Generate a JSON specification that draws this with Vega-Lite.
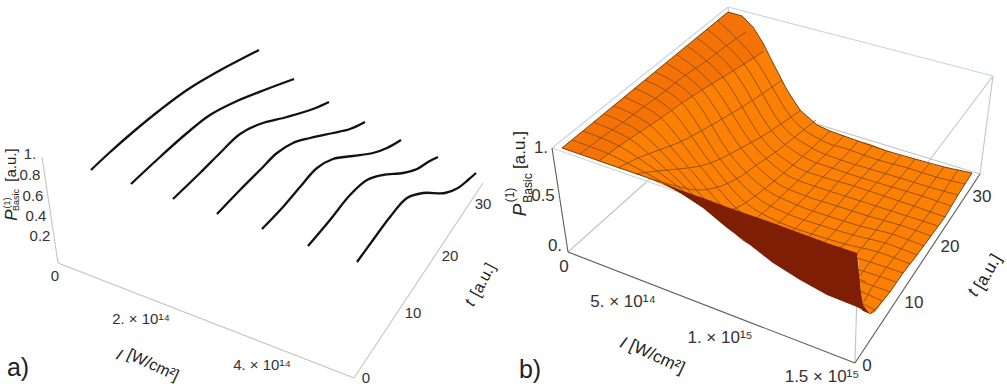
{"$schema":"https://vega.github.io/schema/vega-lite/v6.json","width":1007,"height":390,"padding":0,"autosize":{"type":"fit","contains":"padding"},"background":"white","config":{"view":{"stroke":null},"text":{"font":"Liberation Sans"}},
"datasets":{
"curves":[
{"k":"c1","x":91,"y":170},{"k":"c1","x":108,"y":154},{"k":"c1","x":133,"y":132},{"k":"c1","x":160,"y":110},{"k":"c1","x":187,"y":90},{"k":"c1","x":217,"y":72},{"k":"c1","x":259,"y":50},
{"k":"c2","x":131,"y":184},{"k":"c2","x":160,"y":157},{"k":"c2","x":187,"y":133},{"k":"c2","x":210,"y":115},{"k":"c2","x":237,"y":101},{"k":"c2","x":267,"y":89},{"k":"c2","x":294,"y":79},
{"k":"c3","x":173,"y":199},{"k":"c3","x":200,"y":173},{"k":"c3","x":220,"y":153},{"k":"c3","x":240,"y":134},{"k":"c3","x":260,"y":124},{"k":"c3","x":287,"y":117},{"k":"c3","x":313,"y":109},{"k":"c3","x":329,"y":102},
{"k":"c4","x":217,"y":214},{"k":"c4","x":240,"y":190},{"k":"c4","x":260,"y":170},{"k":"c4","x":277,"y":153},{"k":"c4","x":293,"y":143},{"k":"c4","x":310,"y":138},{"k":"c4","x":333,"y":133},{"k":"c4","x":350,"y":129},{"k":"c4","x":365,"y":122},
{"k":"c5","x":262,"y":229},{"k":"c5","x":283,"y":207},{"k":"c5","x":300,"y":187},{"k":"c5","x":317,"y":168},{"k":"c5","x":333,"y":159},{"k":"c5","x":353,"y":156},{"k":"c5","x":373,"y":153},{"k":"c5","x":387,"y":148},{"k":"c5","x":401,"y":140},
{"k":"c6","x":308,"y":246},{"k":"c6","x":330,"y":220},{"k":"c6","x":350,"y":195},{"k":"c6","x":367,"y":180},{"k":"c6","x":383,"y":175},{"k":"c6","x":403,"y":173},{"k":"c6","x":417,"y":169},{"k":"c6","x":428,"y":162},{"k":"c6","x":438,"y":157},
{"k":"c7","x":357,"y":262},{"k":"c7","x":373,"y":240},{"k":"c7","x":390,"y":217},{"k":"c7","x":407,"y":198},{"k":"c7","x":423,"y":193},{"k":"c7","x":445,"y":193},{"k":"c7","x":458,"y":188},{"k":"c7","x":468,"y":180},{"k":"c7","x":476,"y":173}],
"greyAxes":[
{"k":"a1","x":42,"y":157},{"k":"a1","x":58,"y":263},{"k":"a2","x":58,"y":263},{"k":"a2","x":354,"y":378},{"k":"a3","x":354,"y":378},{"k":"a3","x":483,"y":183},
{"k":"b1","x":993,"y":76},{"k":"b1","x":858,"y":255},{"k":"b2","x":568,"y":252},{"k":"b2","x":738,"y":100},{"k":"b3","x":855,"y":363},{"k":"b3","x":858,"y":255},{"k":"b4","x":993,"y":76},{"k":"b4","x":980,"y":174},{"k":"b5","x":738,"y":100},{"k":"b5","x":980,"y":174},{"k":"b6","x":728,"y":7},{"k":"b6","x":738,"y":100}],
"blueAxes":[{"k":"b7","x":552,"y":148},{"k":"b7","x":728,"y":7},{"k":"b8","x":728,"y":7},{"k":"b8","x":993,"y":76},{"k":"b9","x":552,"y":148},{"k":"b9","x":858,"y":255}],
"darkAxes":[{"k":"d1","x":552,"y":148},{"k":"d1","x":568,"y":252},{"k":"d2","x":568,"y":252},{"k":"d2","x":855,"y":363},{"k":"d3","x":855,"y":363},{"k":"d3","x":980,"y":174}],
"orange":[{"x":562,"y":148,"y2":148},{"x":583,"y":131,"y2":155},{"x":604,"y":114,"y2":163},{"x":645,"y":80,"y2":177},{"x":687,"y":46,"y2":195},{"x":728,"y":12,"y2":210},{"x":742,"y":16,"y2":215},{"x":753,"y":27,"y2":219},{"x":763,"y":43,"y2":222},{"x":773,"y":63,"y2":226},{"x":787,"y":90,"y2":231},{"x":800,"y":110,"y2":235},{"x":817,"y":125,"y2":242},{"x":830,"y":131,"y2":246},{"x":858,"y":141,"y2":256},{"x":859,"y":141,"y2":273},{"x":861,"y":142,"y2":293},{"x":863,"y":142,"y2":305},{"x":870,"y":144,"y2":314},{"x":875,"y":146,"y2":312},{"x":887,"y":151,"y2":296},{"x":890,"y":152,"y2":292},{"x":903,"y":156,"y2":273},{"x":915,"y":159,"y2":258},{"x":931,"y":164,"y2":236},{"x":944,"y":167,"y2":218},{"x":958,"y":170,"y2":195},{"x":972,"y":173,"y2":173}],
"plateau":[{"x":562,"y":148,"y2":148},{"x":583,"y":131,"y2":155},{"x":599,"y":118,"y2":161},{"x":640,"y":84,"y2":132},{"x":682,"y":50,"y2":103},{"x":728,"y":12,"y2":74},{"x":745,"y":18,"y2":63},{"x":764,"y":45,"y2":51}],
"dark":[{"x":660,"y":182,"y2":182},{"x":680,"y":190,"y2":193},{"x":703,"y":198,"y2":208},{"x":727,"y":207,"y2":228},{"x":750,"y":215,"y2":245},{"x":773,"y":223,"y2":263},{"x":800,"y":233,"y2":280},{"x":827,"y":243,"y2":295},{"x":857,"y":253,"y2":307},{"x":859,"y":273,"y2":308},{"x":861,"y":293,"y2":309},{"x":863,"y":305,"y2":311},{"x":870,"y":314,"y2":314}],
"edges":[{"k":"s","x":728,"y":12},{"k":"s","x":742,"y":16},{"k":"s","x":753,"y":27},{"k":"s","x":763,"y":43},{"k":"s","x":773,"y":63},{"k":"s","x":787,"y":90},{"k":"s","x":800,"y":110},{"k":"s","x":817,"y":125},{"k":"s","x":830,"y":131},{"k":"s","x":858,"y":141},{"k":"s","x":887,"y":151},{"k":"s","x":915,"y":159},{"k":"s","x":944,"y":167},{"k":"s","x":972,"y":173},{"k":"l","x":562,"y":148},{"k":"l","x":728,"y":12},{"k":"f","x":562,"y":148},{"k":"f","x":660,"y":182},{"k":"r","x":870,"y":314},{"k":"r","x":875,"y":310},{"k":"r","x":890,"y":292},{"k":"r","x":903,"y":273},{"k":"r","x":917,"y":255},{"k":"r","x":931,"y":236},{"k":"r","x":945,"y":217},{"k":"r","x":958,"y":195},{"k":"r","x":972,"y":173}],
"mesh":[
{"k":"t1","x":572,"y":140},{"k":"t1","x":609,"y":154},{"k":"t1","x":646,"y":173},{"k":"t1","x":684,"y":194},{"k":"t1","x":721,"y":215},{"k":"t1","x":758,"y":236},{"k":"t1","x":794,"y":252},{"k":"t1","x":830,"y":267},{"k":"t1","x":866,"y":282},
{"k":"t2","x":583,"y":131},{"k":"t2","x":619,"y":146},{"k":"t2","x":657,"y":171},{"k":"t2","x":695,"y":200},{"k":"t2","x":732,"y":230},{"k":"t2","x":769,"y":257},{"k":"t2","x":804,"y":277},{"k":"t2","x":840,"y":293},{"k":"t2","x":875,"y":310},
{"k":"t3","x":593,"y":122},{"k":"t3","x":630,"y":139},{"k":"t3","x":667,"y":170},{"k":"t3","x":705,"y":206},{"k":"t3","x":742,"y":237},{"k":"t3","x":778,"y":257},{"k":"t3","x":812,"y":273},{"k":"t3","x":848,"y":286},{"k":"t3","x":882,"y":301},
{"k":"t4","x":604,"y":114},{"k":"t4","x":640,"y":132},{"k":"t4","x":678,"y":169},{"k":"t4","x":716,"y":212},{"k":"t4","x":752,"y":244},{"k":"t4","x":787,"y":257},{"k":"t4","x":821,"y":270},{"k":"t4","x":856,"y":280},{"k":"t4","x":890,"y":292},
{"k":"t5","x":614,"y":106},{"k":"t5","x":650,"y":125},{"k":"t5","x":689,"y":168},{"k":"t5","x":726,"y":210},{"k":"t5","x":761,"y":238},{"k":"t5","x":795,"y":250},{"k":"t5","x":829,"y":261},{"k":"t5","x":863,"y":271},{"k":"t5","x":896,"y":282},
{"k":"t6","x":624,"y":97},{"k":"t6","x":661,"y":118},{"k":"t6","x":700,"y":166},{"k":"t6","x":736,"y":208},{"k":"t6","x":770,"y":231},{"k":"t6","x":804,"y":242},{"k":"t6","x":837,"y":252},{"k":"t6","x":870,"y":262},{"k":"t6","x":903,"y":273},
{"k":"t7","x":634,"y":88},{"k":"t7","x":671,"y":110},{"k":"t7","x":710,"y":162},{"k":"t7","x":745,"y":202},{"k":"t7","x":779,"y":222},{"k":"t7","x":812,"y":234},{"k":"t7","x":845,"y":244},{"k":"t7","x":878,"y":252},{"k":"t7","x":910,"y":264},
{"k":"t8","x":645,"y":80},{"k":"t8","x":682,"y":103},{"k":"t8","x":720,"y":159},{"k":"t8","x":755,"y":196},{"k":"t8","x":788,"y":214},{"k":"t8","x":820,"y":225},{"k":"t8","x":853,"y":235},{"k":"t8","x":885,"y":243},{"k":"t8","x":917,"y":255},
{"k":"t9","x":655,"y":72},{"k":"t9","x":692,"y":96},{"k":"t9","x":730,"y":154},{"k":"t9","x":764,"y":188},{"k":"t9","x":797,"y":205},{"k":"t9","x":828,"y":216},{"k":"t9","x":860,"y":226},{"k":"t9","x":892,"y":234},{"k":"t9","x":924,"y":246},
{"k":"t10","x":666,"y":63},{"k":"t10","x":702,"y":90},{"k":"t10","x":741,"y":148},{"k":"t10","x":774,"y":181},{"k":"t10","x":806,"y":196},{"k":"t10","x":837,"y":206},{"k":"t10","x":868,"y":216},{"k":"t10","x":900,"y":225},{"k":"t10","x":931,"y":236},
{"k":"t11","x":676,"y":54},{"k":"t11","x":712,"y":84},{"k":"t11","x":751,"y":142},{"k":"t11","x":784,"y":173},{"k":"t11","x":814,"y":186},{"k":"t11","x":845,"y":196},{"k":"t11","x":876,"y":206},{"k":"t11","x":907,"y":216},{"k":"t11","x":938,"y":226},
{"k":"t12","x":687,"y":46},{"k":"t12","x":723,"y":77},{"k":"t12","x":761,"y":137},{"k":"t12","x":793,"y":165},{"k":"t12","x":823,"y":177},{"k":"t12","x":854,"y":186},{"k":"t12","x":884,"y":196},{"k":"t12","x":914,"y":206},{"k":"t12","x":945,"y":217},
{"k":"t13","x":697,"y":38},{"k":"t13","x":733,"y":70},{"k":"t13","x":771,"y":130},{"k":"t13","x":802,"y":156},{"k":"t13","x":832,"y":168},{"k":"t13","x":862,"y":178},{"k":"t13","x":892,"y":187},{"k":"t13","x":922,"y":196},{"k":"t13","x":951,"y":206},
{"k":"t14","x":707,"y":29},{"k":"t14","x":744,"y":64},{"k":"t14","x":781,"y":124},{"k":"t14","x":812,"y":148},{"k":"t14","x":841,"y":160},{"k":"t14","x":870,"y":169},{"k":"t14","x":900,"y":178},{"k":"t14","x":929,"y":187},{"k":"t14","x":958,"y":195},
{"k":"t15","x":717,"y":20},{"k":"t15","x":754,"y":58},{"k":"t15","x":791,"y":117},{"k":"t15","x":821,"y":140},{"k":"t15","x":850,"y":150},{"k":"t15","x":878,"y":160},{"k":"t15","x":908,"y":168},{"k":"t15","x":936,"y":177},{"k":"t15","x":965,"y":184},
{"k":"i1","x":580,"y":154},{"k":"i1","x":601,"y":138},{"k":"i1","x":622,"y":123},{"k":"i1","x":642,"y":108},{"k":"i1","x":664,"y":92},{"k":"i1","x":684,"y":76},{"k":"i1","x":705,"y":62},{"k":"i1","x":726,"y":46},{"k":"i1","x":746,"y":32},
{"k":"i2","x":599,"y":161},{"k":"i2","x":619,"y":146},{"k":"i2","x":640,"y":132},{"k":"i2","x":661,"y":118},{"k":"i2","x":682,"y":103},{"k":"i2","x":702,"y":90},{"k":"i2","x":723,"y":77},{"k":"i2","x":744,"y":64},{"k":"i2","x":764,"y":51},
{"k":"i3","x":618,"y":168},{"k":"i3","x":638,"y":158},{"k":"i3","x":659,"y":150},{"k":"i3","x":680,"y":142},{"k":"i3","x":701,"y":131},{"k":"i3","x":722,"y":119},{"k":"i3","x":742,"y":107},{"k":"i3","x":762,"y":94},{"k":"i3","x":782,"y":80},
{"k":"i4","x":636,"y":174},{"k":"i4","x":657,"y":171},{"k":"i4","x":678,"y":169},{"k":"i4","x":700,"y":166},{"k":"i4","x":720,"y":159},{"k":"i4","x":741,"y":148},{"k":"i4","x":761,"y":137},{"k":"i4","x":781,"y":124},{"k":"i4","x":801,"y":110},
{"k":"i5","x":654,"y":180},{"k":"i5","x":676,"y":186},{"k":"i5","x":697,"y":190},{"k":"i5","x":718,"y":187},{"k":"i5","x":738,"y":178},{"k":"i5","x":758,"y":164},{"k":"i5","x":777,"y":151},{"k":"i5","x":796,"y":136},{"k":"i5","x":816,"y":120},
{"k":"i6","x":673,"y":187},{"k":"i6","x":695,"y":200},{"k":"i6","x":716,"y":212},{"k":"i6","x":736,"y":208},{"k":"i6","x":755,"y":196},{"k":"i6","x":774,"y":181},{"k":"i6","x":793,"y":165},{"k":"i6","x":812,"y":148},{"k":"i6","x":830,"y":131},
{"k":"i7","x":692,"y":194},{"k":"i7","x":714,"y":215},{"k":"i7","x":734,"y":228},{"k":"i7","x":753,"y":220},{"k":"i7","x":772,"y":205},{"k":"i7","x":790,"y":188},{"k":"i7","x":808,"y":171},{"k":"i7","x":826,"y":154},{"k":"i7","x":844,"y":136},
{"k":"i8","x":710,"y":200},{"k":"i8","x":732,"y":230},{"k":"i8","x":752,"y":244},{"k":"i8","x":770,"y":231},{"k":"i8","x":788,"y":214},{"k":"i8","x":806,"y":196},{"k":"i8","x":823,"y":177},{"k":"i8","x":841,"y":160},{"k":"i8","x":858,"y":141},
{"k":"i9","x":728,"y":207},{"k":"i9","x":750,"y":244},{"k":"i9","x":770,"y":250},{"k":"i9","x":787,"y":236},{"k":"i9","x":804,"y":220},{"k":"i9","x":822,"y":201},{"k":"i9","x":838,"y":182},{"k":"i9","x":856,"y":164},{"k":"i9","x":872,"y":146},
{"k":"i10","x":747,"y":214},{"k":"i10","x":769,"y":257},{"k":"i10","x":787,"y":257},{"k":"i10","x":804,"y":242},{"k":"i10","x":820,"y":225},{"k":"i10","x":837,"y":206},{"k":"i10","x":854,"y":186},{"k":"i10","x":870,"y":169},{"k":"i10","x":887,"y":151},
{"k":"i11","x":766,"y":220},{"k":"i11","x":786,"y":267},{"k":"i11","x":804,"y":264},{"k":"i11","x":820,"y":247},{"k":"i11","x":836,"y":230},{"k":"i11","x":852,"y":211},{"k":"i11","x":869,"y":191},{"k":"i11","x":885,"y":174},{"k":"i11","x":901,"y":155},
{"k":"i12","x":784,"y":227},{"k":"i12","x":804,"y":277},{"k":"i12","x":821,"y":270},{"k":"i12","x":837,"y":252},{"k":"i12","x":853,"y":235},{"k":"i12","x":868,"y":216},{"k":"i12","x":884,"y":196},{"k":"i12","x":900,"y":178},{"k":"i12","x":915,"y":159},
{"k":"i13","x":802,"y":234},{"k":"i13","x":822,"y":285},{"k":"i13","x":838,"y":275},{"k":"i13","x":854,"y":257},{"k":"i13","x":869,"y":239},{"k":"i13","x":884,"y":220},{"k":"i13","x":899,"y":201},{"k":"i13","x":914,"y":182},{"k":"i13","x":930,"y":163},
{"k":"i14","x":821,"y":240},{"k":"i14","x":840,"y":293},{"k":"i14","x":856,"y":280},{"k":"i14","x":870,"y":262},{"k":"i14","x":885,"y":243},{"k":"i14","x":900,"y":225},{"k":"i14","x":914,"y":206},{"k":"i14","x":929,"y":187},{"k":"i14","x":944,"y":167},
{"k":"i15","x":840,"y":246},{"k":"i15","x":858,"y":302},{"k":"i15","x":873,"y":286},{"k":"i15","x":886,"y":268},{"k":"i15","x":901,"y":249},{"k":"i15","x":916,"y":230},{"k":"i15","x":930,"y":212},{"k":"i15","x":944,"y":191},{"k":"i15","x":958,"y":170}]
},
"encoding":{"x":{"field":"x","type":"quantitative","scale":{"domain":[0,1007],"nice":false,"zero":false},"axis":null},"y":{"field":"y","type":"quantitative","scale":{"domain":[390,0],"nice":false,"zero":false},"axis":null}},
"layer":[
{"data":{"name":"greyAxes"},"mark":{"type":"line","stroke":"#c4c4c4","strokeWidth":1.1},"encoding":{"detail":{"field":"k"}}},
{"data":{"name":"blueAxes"},"mark":{"type":"line","stroke":"#c6d6e4","strokeWidth":1.2},"encoding":{"detail":{"field":"k"}}},
{"data":{"name":"darkAxes"},"mark":{"type":"line","stroke":"#5a5a5a","strokeWidth":1.1},"encoding":{"detail":{"field":"k"}}},
{"data":{"name":"curves"},"mark":{"type":"line","interpolate":"catmull-rom","stroke":"#111111","strokeWidth":2.3},"encoding":{"detail":{"field":"k"}}},
{"data":{"name":"orange"},"mark":{"type":"area","fill":"#fb8004"},"encoding":{"y2":{"field":"y2"}}},
{"data":{"name":"plateau"},"mark":{"type":"area","fill":"#f57206"},"encoding":{"y2":{"field":"y2"}}},
{"data":{"name":"mesh"},"mark":{"type":"line","interpolate":"cardinal","stroke":"#8f4c10","strokeWidth":1,"opacity":0.9},"encoding":{"detail":{"field":"k"}}},
{"data":{"name":"dark"},"mark":{"type":"area","fill":"#7e1e05"},"encoding":{"y2":{"field":"y2"}}},
{"data":{"name":"edges"},"mark":{"type":"line","stroke":"#7c3d0c","strokeWidth":1},"encoding":{"detail":{"field":"k"}}},
{"data":{"values":[{"x":30,"y":154,"t":"1."},{"x":30,"y":175,"t":"0.8"},{"x":33,"y":196,"t":"0.6"},{"x":36,"y":216,"t":"0.4"},{"x":40,"y":236,"t":"0.2"},{"x":55,"y":276,"t":"0"},{"x":141,"y":319,"t":"2. × 10¹⁴"},{"x":262,"y":365,"t":"4. × 10¹⁴"},{"x":366,"y":378,"t":"0"},{"x":413,"y":313,"t":"10"},{"x":450,"y":256,"t":"20"},{"x":483,"y":204,"t":"30"}]},"mark":{"type":"text","fontSize":15,"fill":"#333333","align":"center","baseline":"middle"},"encoding":{"text":{"field":"t"}}},
{"data":{"values":[{"x":541,"y":148,"t":"1."},{"x":543,"y":196,"t":"0.5"},{"x":555,"y":246,"t":"0."},{"x":564,"y":267,"t":"0"},{"x":623,"y":302,"t":"5. × 10¹⁴"},{"x":720,"y":338,"t":"1. × 10¹⁵"},{"x":822,"y":377,"t":"1.5 × 10¹⁵"},{"x":867,"y":366,"t":"0"},{"x":914,"y":303,"t":"10"},{"x":950,"y":247,"t":"20"},{"x":982,"y":197,"t":"30"}]},"mark":{"type":"text","fontSize":17,"fill":"#333333","align":"center","baseline":"middle"},"encoding":{"text":{"field":"t"}}},
{"data":{"values":[{"x":18,"y":368,"t":"a)"},{"x":530,"y":370,"t":"b)"}]},"mark":{"type":"text","fontSize":25,"fill":"#222222","align":"center","baseline":"middle"},"encoding":{"text":{"field":"t"}}},
{"data":{"values":[{"x":153,"y":365,"t":"[W/cm²]"}]},"mark":{"type":"text","fontSize":16,"angle":25,"fill":"#222222","align":"center","baseline":"middle"},"encoding":{"text":{"field":"t"}}},
{"data":{"values":[{"x":119,"y":355,"t":"I"}]},"mark":{"type":"text","fontSize":16,"fontStyle":"italic","angle":25,"fill":"#222222","align":"center","baseline":"middle"},"encoding":{"text":{"field":"t"}}},
{"data":{"values":[{"x":657,"y":357,"t":"[W/cm²]"}]},"mark":{"type":"text","fontSize":17,"angle":25,"fill":"#222222","align":"center","baseline":"middle"},"encoding":{"text":{"field":"t"}}},
{"data":{"values":[{"x":623,"y":343,"t":"I"}]},"mark":{"type":"text","fontSize":17,"fontStyle":"italic","angle":25,"fill":"#222222","align":"center","baseline":"middle"},"encoding":{"text":{"field":"t"}}},
{"data":{"values":[{"x":483,"y":280,"t":"[a.u.]"}]},"mark":{"type":"text","fontSize":16,"angle":-62,"fill":"#222222","align":"center","baseline":"middle"},"encoding":{"text":{"field":"t"}}},
{"data":{"values":[{"x":470,"y":303,"t":"t"}]},"mark":{"type":"text","fontSize":16,"fontStyle":"italic","angle":-62,"fill":"#222222","align":"center","baseline":"middle"},"encoding":{"text":{"field":"t"}}},
{"data":{"values":[{"x":988,"y":272,"t":"[a.u.]"}]},"mark":{"type":"text","fontSize":17,"angle":-60,"fill":"#222222","align":"center","baseline":"middle"},"encoding":{"text":{"field":"t"}}},
{"data":{"values":[{"x":973,"y":293,"t":"t"}]},"mark":{"type":"text","fontSize":17,"fontStyle":"italic","angle":-60,"fill":"#222222","align":"center","baseline":"middle"},"encoding":{"text":{"field":"t"}}},
{"data":{"values":[{"x":11,"y":165,"t":"[a.u.]"}]},"mark":{"type":"text","fontSize":15,"angle":-90,"fill":"#222222","align":"center","baseline":"middle"},"encoding":{"text":{"field":"t"}}},
{"data":{"values":[{"x":12,"y":215,"t":"P"}]},"mark":{"type":"text","fontSize":17,"fontStyle":"italic","angle":-90,"fill":"#222222","align":"center","baseline":"middle"},"encoding":{"text":{"field":"t"}}},
{"data":{"values":[{"x":7,"y":203,"t":"(1)"},{"x":16,"y":200,"t":"Basic"}]},"mark":{"type":"text","fontSize":9,"angle":-90,"fill":"#222222","align":"center","baseline":"middle"},"encoding":{"text":{"field":"t"}}},
{"data":{"values":[{"x":520,"y":150,"t":"[a.u.]"}]},"mark":{"type":"text","fontSize":17,"angle":-90,"fill":"#222222","align":"center","baseline":"middle"},"encoding":{"text":{"field":"t"}}},
{"data":{"values":[{"x":520,"y":210,"t":"P"}]},"mark":{"type":"text","fontSize":19,"fontStyle":"italic","angle":-90,"fill":"#222222","align":"center","baseline":"middle"},"encoding":{"text":{"field":"t"}}},
{"data":{"values":[{"x":510,"y":195,"t":"(1)"},{"x":528,"y":188,"t":"Basic"}]},"mark":{"type":"text","fontSize":12,"angle":-90,"fill":"#222222","align":"center","baseline":"middle"},"encoding":{"text":{"field":"t"}}}
]}
